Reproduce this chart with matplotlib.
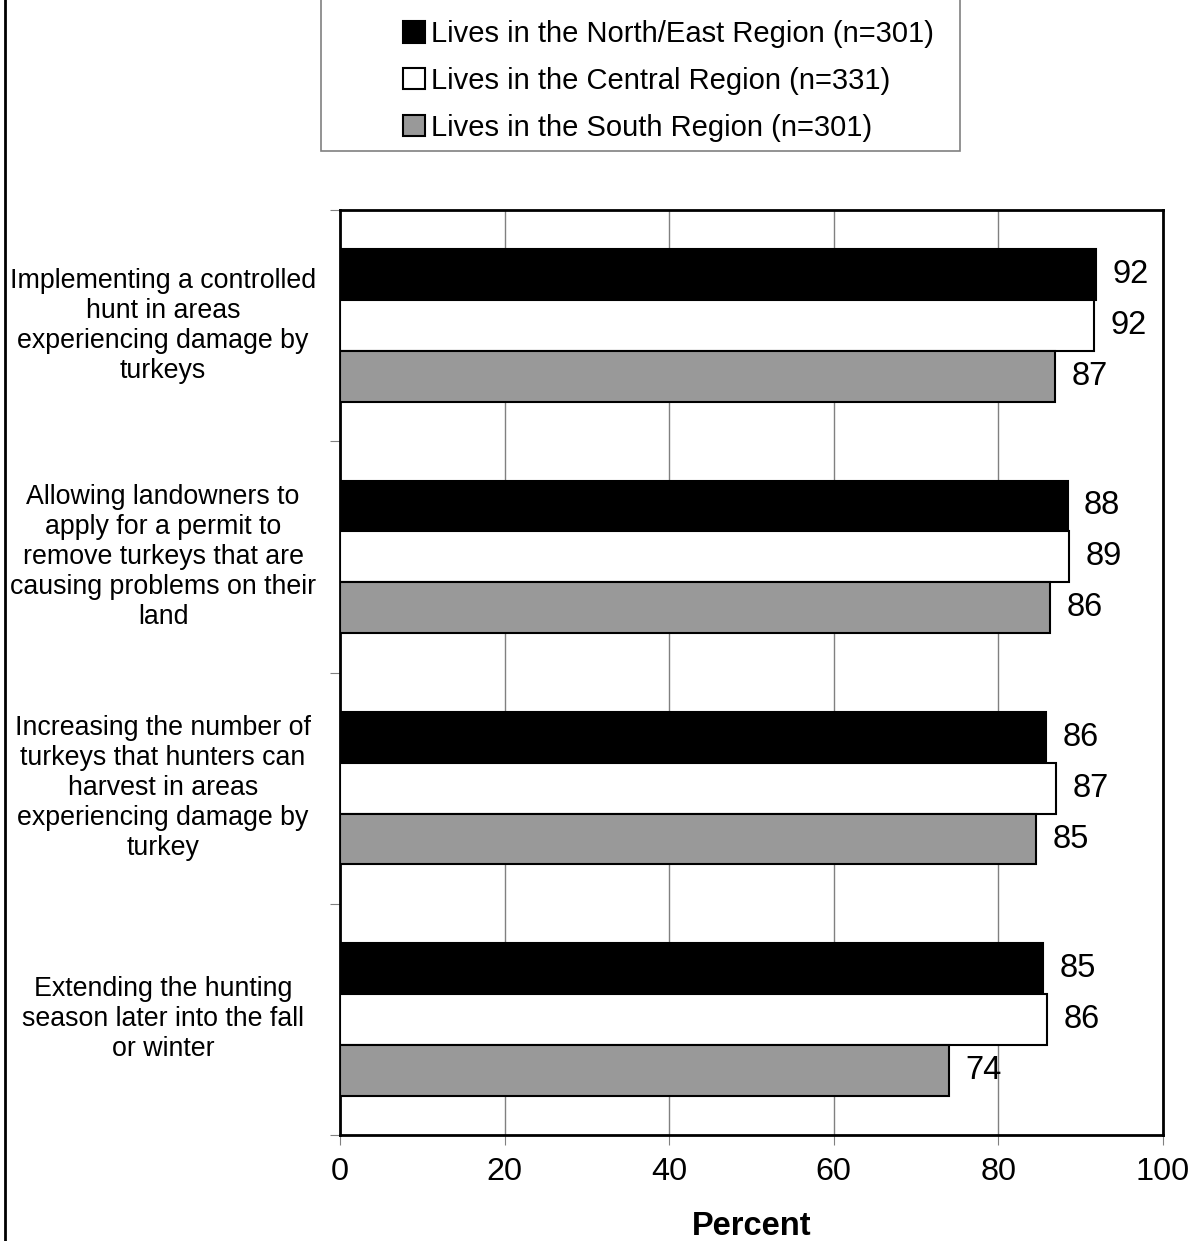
import numpy as np
import matplotlib
matplotlib.use("Agg")
import matplotlib.pyplot as plt
from matplotlib.patches import Patch, Rectangle
from matplotlib.lines import Line2D

plt.rcParams['font.family'] = ['Liberation Sans', 'DejaVu Sans']

categories = [
    "Implementing a controlled\nhunt in areas\nexperiencing damage by\nturkeys",
    "Allowing landowners to\napply for a permit to\nremove turkeys that are\ncausing problems on their\nland",
    "Increasing the number of\nturkeys that hunters can\nharvest in areas\nexperiencing damage by\nturkey",
    "Extending the hunting\nseason later into the fall\nor winter",
]
series_names = [
    "Lives in the North/East Region (n=301)",
    "Lives in the Central Region (n=331)",
    "Lives in the South Region (n=301)",
]
north_east = [91.9, 88.4, 85.8, 85.4]
central = [91.6, 88.6, 87.0, 85.9]
south = [86.9, 86.3, 84.6, 74.0]
series_values = [north_east, central, south]
series_colors = ['black', 'white', '#999999']

fig = plt.figure(figsize=(11.94, 12.41), dpi=100)
ax = fig.add_axes([340 / 1194, 1 - 1135 / 1241, (1163 - 340) / 1194, (1135 - 210) / 1241])

bar_h = 0.22
y_centers = np.arange(len(categories))
for i, (vals, color) in enumerate(zip(series_values, series_colors)):
    ypos = y_centers + (i - 1) * bar_h
    ax.barh(ypos, vals, height=bar_h, color=color, edgecolor='black',
            linewidth=1.5, zorder=3)
    for y, v in zip(ypos, vals):
        ax.text(v + 2.0, y, f"{round(v)}", va='center', ha='left',
                fontsize=23.5, zorder=4)

ax.set_xlim(0, 100)
ax.set_ylim(len(categories) - 0.5, -0.5)
ax.set_xticks(np.arange(0, 101, 20))
ax.tick_params(axis='x', labelsize=23.3, length=7, color='gray', direction='out', pad=9)
ax.set_yticks(np.arange(-0.5, len(categories), 1.0))
ax.set_yticklabels([])
ax.tick_params(axis='y', length=7, color='gray', direction='out')
ax.xaxis.grid(True, color='gray', linewidth=1.0, zorder=0)
ax.set_axisbelow(True)
for sp in ax.spines.values():
    sp.set_linewidth(2)
    sp.set_color('black')

ax.set_xlabel("Percent", fontsize=23.5, fontweight='bold', labelpad=17)

# category labels on the left
for y, cat in zip(y_centers, categories):
    ax.text(-0.215, y, cat, transform=ax.get_yaxis_transform(), ha='center',
            va='center', fontsize=19.3, linespacing=1.2)

# legend box
fig.patches.append(Rectangle((321 / 1194, 1 - 151 / 1241), (960 - 321) / 1194, 0.2,
                             transform=fig.transFigure, facecolor='white',
                             edgecolor='gray', linewidth=1.2))
handles = [Patch(facecolor=c, edgecolor='black', linewidth=1.5) for c in series_colors]
fig.legend(handles, series_names, loc='upper left',
           bbox_to_anchor=(377 / 1194, 1 + 6 / 1241), frameon=False, fontsize=21,
           handlelength=0.75, handleheight=0.75, handletextpad=0.2, labelspacing=0.64)

# left border of the figure
fig.add_artist(Line2D([5 / 1194, 5 / 1194], [0, 1], transform=fig.transFigure,
                      color='black', linewidth=2))

fig.savefig("out.png", dpi=100)
